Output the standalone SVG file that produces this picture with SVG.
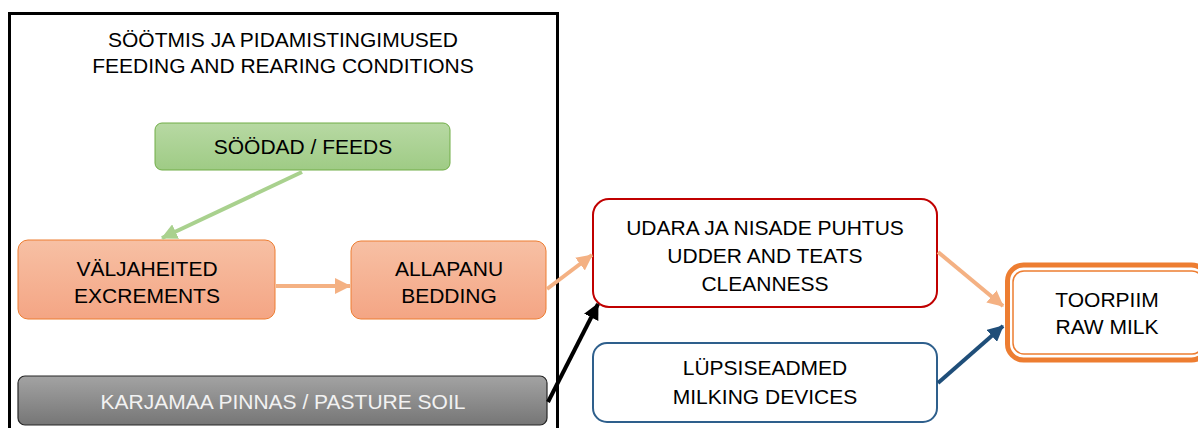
<svg xmlns="http://www.w3.org/2000/svg" width="1198" height="428" viewBox="0 0 1198 428">
<defs>
<style>
text{font-family:"Liberation Sans",Arial,sans-serif;font-size:21px;fill:#000;text-anchor:middle}
.w{fill:#f2f2f2}
.c{fill:none;stroke-width:4}
</style>
<linearGradient id="gG" x1="0" y1="0" x2="0" y2="1"><stop offset="0" stop-color="#b7d9a3"/><stop offset="1" stop-color="#9fcb85"/></linearGradient>
<linearGradient id="gO" x1="0" y1="0" x2="0" y2="1"><stop offset="0" stop-color="#f7c0a4"/><stop offset="1" stop-color="#f4a584"/></linearGradient>
<linearGradient id="gK" x1="0" y1="0" x2="0" y2="1"><stop offset="0" stop-color="#a3a3a3"/><stop offset="1" stop-color="#767676"/></linearGradient>
<marker id="mG" markerUnits="userSpaceOnUse" markerWidth="18" markerHeight="16" refX="15" refY="8" orient="auto"><path d="M0,0L16,8L0,16z" fill="#a9d18e"/></marker>
<marker id="mO" markerUnits="userSpaceOnUse" markerWidth="18" markerHeight="16" refX="15" refY="8" orient="auto"><path d="M0,0L16,8L0,16z" fill="#f4b183"/></marker>
<marker id="mK" markerUnits="userSpaceOnUse" markerWidth="18" markerHeight="16" refX="15" refY="8" orient="auto"><path d="M0,0L16,8L0,16z" fill="#000"/></marker>
<marker id="mB" markerUnits="userSpaceOnUse" markerWidth="18" markerHeight="16" refX="15" refY="8" orient="auto"><path d="M0,0L16,8L0,16z" fill="#1f4e79"/></marker>
</defs>
<g id="container">
<rect x="9.5" y="13.5" width="548" height="430" fill="#fff" stroke="#000" stroke-width="3"/>
<text x="283" y="47">SÖÖTMIS JA PIDAMISTINGIMUSED</text>
<text x="283" y="73">FEEDING AND REARING CONDITIONS</text>
</g>
<g id="feeds">
<rect x="155" y="123" width="295" height="47" rx="7" fill="url(#gG)" stroke="#70ad47" stroke-width="1"/>
<text x="303" y="154">SÖÖDAD / FEEDS</text>
</g>
<g id="excrements">
<rect x="18" y="240" width="257" height="79" rx="10" fill="url(#gO)" stroke="#ed7d31" stroke-width="1"/>
<text x="147" y="276">VÄLJAHEITED</text>
<text x="147" y="303">EXCREMENTS</text>
</g>
<g id="bedding">
<rect x="351" y="241" width="195" height="78" rx="10" fill="url(#gO)" stroke="#ed7d31" stroke-width="1"/>
<text x="449" y="276">ALLAPANU</text>
<text x="449" y="303">BEDDING</text>
</g>
<g id="pasture">
<rect x="18" y="376" width="529" height="49" rx="7" fill="url(#gK)" stroke="#262626" stroke-width="1.2"/>
<text class="w" x="283" y="409">KARJAMAA PINNAS / PASTURE SOIL</text>
</g>
<g id="udder">
<rect x="593" y="199" width="344" height="108" rx="16" fill="#fff" stroke="#c00000" stroke-width="2"/>
<text x="765" y="235">UDARA JA NISADE PUHTUS</text>
<text x="765" y="263">UDDER AND TEATS</text>
<text x="765" y="291">CLEANNESS</text>
</g>
<g id="milking">
<rect x="593" y="343" width="344" height="79" rx="14" fill="#fff" stroke="#2e5f8c" stroke-width="2"/>
<text x="765" y="375">LÜPSISEADMED</text>
<text x="765" y="404">MILKING DEVICES</text>
</g>
<g id="rawmilk">
<rect x="1007.5" y="265" width="200" height="95" rx="16" fill="#fff" stroke="#ed7d31" stroke-width="5"/>
<rect x="1013" y="271" width="190" height="83" rx="11" fill="none" stroke="#ed7d31" stroke-width="1.5"/>
<text x="1107" y="307">TOORPIIM</text>
<text x="1107" y="334">RAW MILK</text>
</g>
<g id="connectors">
<line class="c" x1="302" y1="172" x2="162" y2="238" stroke="#a9d18e" marker-end="url(#mG)"/>
<line class="c" x1="276" y1="286" x2="350" y2="286" stroke="#f4b183" marker-end="url(#mO)"/>
<line class="c" x1="547" y1="289" x2="592" y2="255" stroke="#f4b183" marker-end="url(#mO)"/>
<line class="c" x1="548" y1="402" x2="598" y2="304" stroke="#000" marker-end="url(#mK)"/>
<line class="c" x1="938" y1="252" x2="1003" y2="306" stroke="#f4b183" marker-end="url(#mO)"/>
<line class="c" x1="938" y1="383" x2="1003" y2="326" stroke="#1f4e79" marker-end="url(#mB)"/>
</g>
</svg>
